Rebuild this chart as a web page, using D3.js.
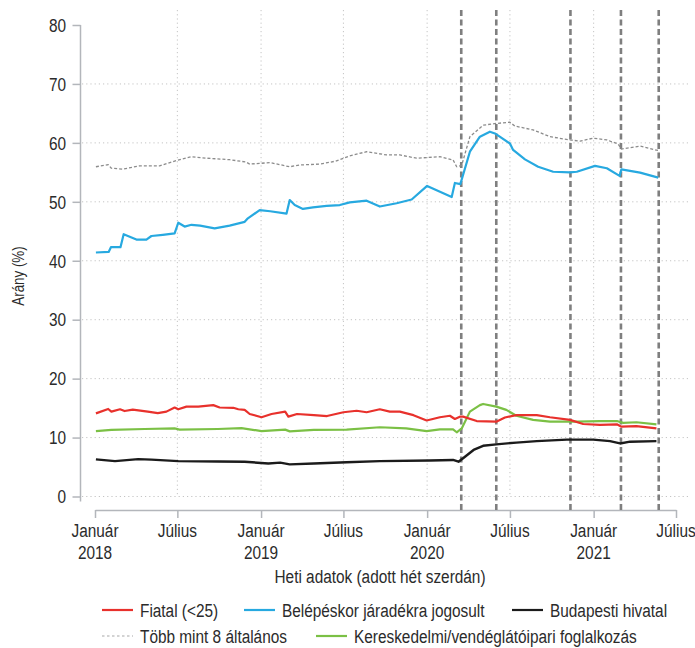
<!DOCTYPE html>
<html>
<head>
<meta charset="utf-8">
<script src="https://cdn.jsdelivr.net/npm/d3@7"></script>
<style>
  body { margin: 0; background: #fff; }
  svg text { font-family: "Liberation Sans", Arial, sans-serif; fill: #2b2b2b; }
</style>
</head>
<body>
<div id="chart"></div>
<script>
// weekly data (date, %)
const fiatal = [
  ["2018-01-03",14.1],["2018-01-30",14.85],["2018-02-06",14.4],["2018-02-25",14.8],["2018-03-07",14.5],
  ["2018-03-25",14.75],["2018-04-27",14.4],["2018-05-19",14.15],["2018-06-07",14.4],["2018-06-25",15.1],
  ["2018-07-03",14.8],["2018-07-21",15.25],["2018-08-16",15.25],["2018-09-18",15.5],["2018-10-02",15.1],
  ["2018-11-01",15.05],["2018-11-12",14.8],["2018-11-26",14.7],["2018-12-07",14.0],["2019-01-02",13.45],
  ["2019-01-24",14.0],["2019-02-23",14.4],["2019-03-02",13.55],["2019-03-21",14.0],["2019-04-27",13.8],
  ["2019-05-26",13.65],["2019-07-01",14.3],["2019-07-30",14.55],["2019-08-21",14.3],["2019-09-19",14.8],
  ["2019-10-11",14.4],["2019-11-02",14.4],["2019-12-02",13.8],["2019-12-31",12.9],["2020-01-29",13.45],
  ["2020-02-20",13.7],["2020-03-02",13.15],["2020-03-13",13.55],["2020-03-20",13.55],["2020-04-19",12.8],
  ["2020-06-01",12.7],["2020-06-20",13.4],["2020-07-15",13.8],["2020-08-29",13.8],["2020-09-27",13.45],
  ["2020-11-10",13.0],["2020-12-09",12.3],["2021-01-15",12.15],["2021-02-21",12.25],["2021-03-03",11.85],
  ["2021-04-05",11.95],["2021-05-19",11.55]
];
const jogosult = [
  ["2018-01-03",41.4],["2018-01-31",41.5],["2018-02-05",42.3],["2018-02-26",42.3],["2018-03-05",44.5],
  ["2018-04-02",43.6],["2018-04-24",43.6],["2018-05-05",44.2],["2018-05-30",44.4],["2018-06-25",44.65],
  ["2018-07-03",46.45],["2018-07-17",45.8],["2018-08-01",46.1],["2018-08-20",45.95],["2018-09-21",45.5],
  ["2018-10-24",45.95],["2018-11-26",46.6],["2018-12-03",47.2],["2018-12-29",48.6],["2019-01-21",48.4],
  ["2019-02-26",48.0],["2019-03-05",50.3],["2019-03-16",49.45],["2019-04-03",48.8],["2019-04-25",49.05],
  ["2019-05-25",49.3],["2019-06-23",49.45],["2019-07-15",49.9],["2019-08-21",50.2],["2019-09-19",49.2],
  ["2019-10-26",49.75],["2019-11-28",50.4],["2020-01-01",52.7],["2020-02-24",50.8],["2020-03-02",53.2],
  ["2020-03-14",53.0],["2020-04-04",58.5],["2020-04-26",61.05],["2020-05-18",61.9],["2020-05-29",61.6],
  ["2020-07-01",59.9],["2020-07-08",58.8],["2020-08-03",57.2],["2020-09-01",55.95],["2020-10-04",55.1],
  ["2020-11-10",55.0],["2020-11-25",55.1],["2021-01-04",56.1],["2021-01-30",55.7],["2021-02-27",54.4],
  ["2021-03-03",55.5],["2021-04-13",54.95],["2021-05-23",54.1]
];
const budapest = [
  ["2018-01-03",6.3],["2018-02-14",6.0],["2018-04-06",6.35],["2018-05-05",6.25],["2018-07-03",6.0],
  ["2018-09-28",5.95],["2018-11-26",5.9],["2019-01-17",5.6],["2019-02-12",5.75],["2019-03-05",5.45],
  ["2019-04-27",5.6],["2019-07-08",5.8],["2019-09-19",6.0],["2020-01-07",6.1],["2020-02-27",6.2],
  ["2020-03-10",5.9],["2020-03-20",6.5],["2020-04-12",7.9],["2020-05-03",8.6],["2020-06-01",8.85],
  ["2020-07-15",9.15],["2020-08-29",9.4],["2020-11-03",9.65],["2020-12-31",9.65],["2021-02-06",9.4],
  ["2021-02-28",9.0],["2021-03-22",9.3],["2021-05-19",9.4]
];
const tobbMint8 = [
  ["2018-01-03",55.95],["2018-01-30",56.3],["2018-02-06",55.7],["2018-03-03",55.55],["2018-04-09",56.1],
  ["2018-05-23",56.1],["2018-06-29",57.0],["2018-08-01",57.65],["2018-09-03",57.4],["2018-10-24",57.15],
  ["2018-11-29",56.75],["2018-12-07",56.4],["2019-01-21",56.65],["2019-03-05",55.95],["2019-03-27",56.25],
  ["2019-05-10",56.4],["2019-06-14",56.9],["2019-07-15",57.8],["2019-08-21",58.5],["2019-10-04",57.95],
  ["2019-11-02",57.95],["2019-12-09",57.4],["2020-01-29",57.65],["2020-02-27",57.1],["2020-03-06",55.95],
  ["2020-03-17",56.2],["2020-04-04",61.05],["2020-05-03",63.0],["2020-06-01",63.3],["2020-07-01",63.5],
  ["2020-07-12",62.85],["2020-08-21",62.2],["2020-09-27",61.05],["2020-11-10",60.5],["2020-12-02",60.3],
  ["2020-12-31",60.8],["2021-01-30",60.5],["2021-02-24",59.8],["2021-03-03",58.95],["2021-04-13",59.45],
  ["2021-05-23",58.7]
];
const kereskedelmi = [
  ["2018-01-03",11.1],["2018-02-06",11.3],["2018-04-20",11.45],["2018-06-25",11.55],["2018-07-06",11.35],
  ["2018-09-28",11.45],["2018-11-19",11.6],["2019-01-02",11.1],["2019-02-23",11.35],["2019-03-05",11.05],
  ["2019-04-27",11.3],["2019-07-08",11.35],["2019-09-19",11.75],["2019-11-16",11.55],["2019-12-31",11.1],
  ["2020-01-29",11.4],["2020-02-27",11.4],["2020-03-06",10.9],["2020-03-17",11.55],["2020-04-04",14.4],
  ["2020-04-26",15.5],["2020-05-03",15.7],["2020-06-01",15.25],["2020-06-23",14.7],["2020-07-15",13.7],
  ["2020-08-21",13.0],["2020-09-27",12.7],["2020-11-25",12.7],["2021-01-15",12.8],["2021-02-21",12.8],
  ["2021-03-07",12.5],["2021-04-05",12.6],["2021-05-19",12.25]
];

// dates of the dashed vertical markers
const markerDates = ["2020-03-16", "2020-06-01", "2020-11-11", "2021-03-02", "2021-05-24"];

const yTicks = [0, 10, 20, 30, 40, 50, 60, 70, 80];
const xTickDates = ["2018-01-01","2018-07-01","2019-01-01","2019-07-01","2020-01-01","2020-07-01","2021-01-01","2021-07-01"];
const xTickLabels = [["Január","2018"],["Július"],["Január","2019"],["Július"],["Január","2020"],["Július"],["Január","2021"],["Július"]];

const seriesNames = ["Fiatal (<25)", "Belépéskor járadékra jogosult", "Budapesti hivatal",
                     "Több mint 8 általános", "Kereskedelmi/vendéglátóipari foglalkozás"];

const W = 695, H = 648;
const parse = d3.timeParse("%Y-%m-%d");
const SQUEEZE = 0.81;   // narrow font look

const series = [
  {name: seriesNames[0], data: fiatal, color: "#e8312c", width: 2.2, dash: null},
  {name: seriesNames[1], data: jogosult, color: "#27a9e0", width: 2.2, dash: null},
  {name: seriesNames[2], data: budapest, color: "#1b1b1b", width: 2.4, dash: null},
  {name: seriesNames[3], data: tobbMint8, color: "#8c8c8c", width: 1.3, dash: "3,2"},
  {name: seriesNames[4], data: kereskedelmi, color: "#7bc045", width: 2.2, dash: null}
];
// draw order: background ones first
const drawOrder = [3, 4, 2, 0, 1];

const svg = d3.select("#chart").append("svg")
    .attr("width", W)
    .attr("height", H);

// condensed text helper
function addText(parent, tx, ty, str, anchor, size, rotate) {
    return parent.append("text")
        .attr("transform", `translate(${tx},${ty})` + (rotate ? ` rotate(${rotate})` : "") + ` scale(${SQUEEZE},1)`)
        .attr("text-anchor", anchor)
        .style("font-size", size + "px")
        .text(str);
}

let x = d3.scaleTime()
    .domain([parse("2018-01-01"), parse("2021-07-01")])
    .range([95, 676]);

let y = d3.scaleLinear()
    .domain([0, 80])
    .range([496.5, 25]);

// grid
svg.append("g").selectAll("line.hgrid")
    .data(yTicks.filter(d => d < 80))
    .enter().append("line")
    .attr("x1", 82).attr("x2", 688)
    .attr("y1", d => y(d)).attr("y2", d => y(d))
    .attr("stroke", "#c4c4c4")
    .attr("stroke-width", 1)
    .attr("stroke-dasharray", "1.2,3");

svg.append("g").selectAll("line.vgrid")
    .data(xTickDates.slice(1, -1))
    .enter().append("line")
    .attr("x1", d => x(parse(d))).attr("x2", d => x(parse(d)))
    .attr("y1", 10).attr("y2", 496.5)
    .attr("stroke", "#c4c4c4")
    .attr("stroke-width", 1)
    .attr("stroke-dasharray", "1.2,3");

// y axis
let yAxis = svg.append("g")
    .attr("transform", "translate(80.5,0)")
    .call(d3.axisLeft(y).tickValues(yTicks).tickSize(8).tickSizeOuter(0).tickFormat(""));
yAxis.select(".domain").attr("stroke", "#b3b6bb").attr("stroke-width", 1.5)
    .attr("d", `M0,${y(80)}V${y(0) + 5}`);
yAxis.selectAll(".tick line").attr("stroke", "#b3b6bb").attr("stroke-width", 1.5);
yTicks.forEach(v => addText(svg, 66, y(v) + 6.8, v, "end", 19));

// x axis
let xAxis = svg.append("g")
    .attr("transform", "translate(0,510)")
    .call(d3.axisBottom(x).tickValues(xTickDates.map(parse)).tickSize(8).tickSizeOuter(0).tickFormat(""));
xAxis.select(".domain").attr("stroke", "#b3b6bb").attr("stroke-width", 1.5);
xAxis.selectAll(".tick line").attr("stroke", "#b3b6bb").attr("stroke-width", 1.5);
xTickDates.forEach((d, i) => {
    xTickLabels[i].forEach((s, j) => addText(svg, x(parse(d)), 537 + j * 22, s, "middle", 19));
});

// dashed markers
svg.append("g").selectAll("line.marker")
    .data(markerDates)
    .enter().append("line")
    .attr("x1", d => x(parse(d))).attr("x2", d => x(parse(d)))
    .attr("y1", 10).attr("y2", 510)
    .attr("stroke", "#7f7f7f")
    .attr("stroke-width", 2.6)
    .attr("stroke-dasharray", "6,3.5");

// lines
let line = d3.line()
    .x(d => x(parse(d[0])))
    .y(d => y(d[1]));

drawOrder.forEach(i => {
    let s = series[i];
    svg.append("path")
        .datum(s.data)
        .attr("fill", "none")
        .attr("stroke", s.color)
        .attr("stroke-width", s.width)
        .attr("stroke-linejoin", "round")
        .attr("stroke-dasharray", s.dash)
        .attr("d", line);
});

// axis titles
addText(svg, 380, 583, "Heti adatok (adott hét szerdán)", "middle", 19);
addText(svg, 24, 276, "Arány (%)", "middle", 16.5, -90);

// legend
const legendPos = [[102, 610], [244, 610], [512, 610], [102, 636], [316, 636]];
let legend = svg.append("g");
series.forEach((s, i) => {
    let g = legend.append("g").attr("transform", `translate(${legendPos[i][0]},${legendPos[i][1]})`);
    g.append("line")
        .attr("x1", 0).attr("x2", 31)
        .attr("stroke", i === 3 ? "#a8a8a8" : s.color)
        .attr("stroke-width", i === 3 ? 1.2 : 2.2)
        .attr("stroke-dasharray", i === 3 ? "2.5,2.5" : null);
    addText(g, 38, 6.8, s.name, "start", 19);
});
</script>
</body>
</html>
